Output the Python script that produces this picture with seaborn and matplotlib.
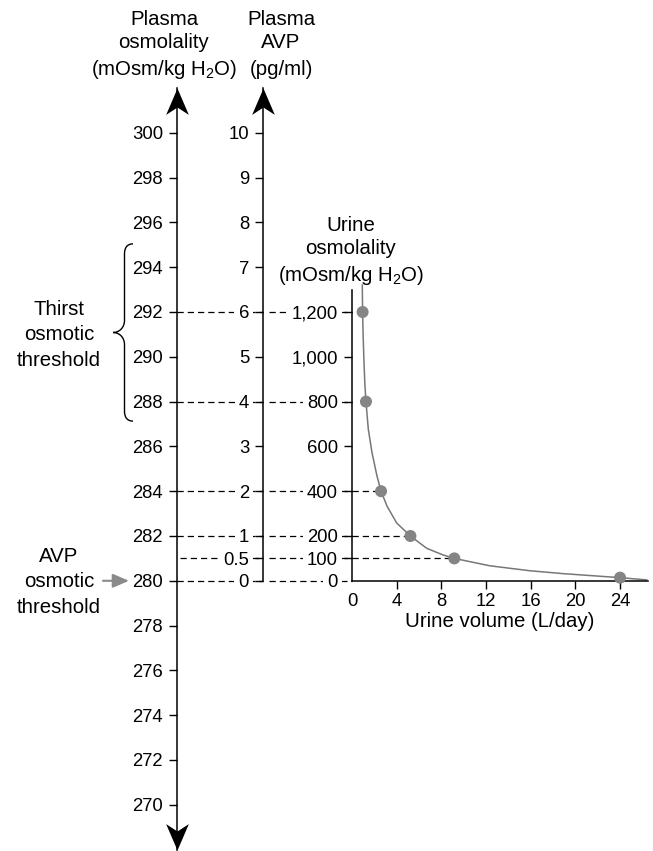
import numpy as np
import pandas as pd
import matplotlib
matplotlib.use("Agg")
import matplotlib.pyplot as plt
from matplotlib.path import Path
from matplotlib.patches import PathPatch
from matplotlib.ticker import FuncFormatter
import seaborn as sns

# ---------------- data ----------------
osm_ticks = [270, 272, 274, 276, 278, 280, 282, 284, 286, 288, 290, 292, 294, 296, 298, 300]
avp_ticks = [0, 0.5, 1, 2, 3, 4, 5, 6, 7, 8, 9, 10]
urine_osm_ticks = [0, 100, 200, 400, 600, 800, 1000, 1200]
urine_vol_ticks = [0, 4, 8, 12, 16, 20, 24]

# linked levels (plasma osmolality -> plasma AVP -> urine osmolality)
link_osm = [292, 288, 284, 282, 281, 280]
link_avp = [6, 4, 2, 1, 0.5, 0]
link_urine = [1200, 800, 400, 200, 100, 0]

# measured points on the urine curve
pt_vol = [0.95, 1.25, 2.6, 5.23, 9.16, 24.0]
pt_osm = [1200, 800, 400, 200, 100, 14]
dashed_pts = [2, 3, 4]  # indices of points joined to the axis by dashes

# curve
curve_vol = [0.92, 0.95, 1.00, 1.07, 1.15, 1.25, 1.46, 1.79, 2.24, 2.60, 3.14, 4.0, 5.23,
             6.69, 8.17, 9.16, 10.6, 12.35, 15.9, 18.9, 24.0, 26.4]
curve_osm = [1321, 1200, 1090, 980, 880, 800, 677, 572, 467, 400, 333, 258, 200,
             145, 115, 100, 85, 67, 45, 32, 14, 4]

thirst_range = (287.13, 295.04)
avp_threshold = 280

# ---------------- style ----------------
sns.set_theme(style="ticks")
plt.rcParams["font.family"] = ["Liberation Sans", "DejaVu Sans"]
plt.rcParams["mathtext.fontset"] = "custom"
plt.rcParams["mathtext.rm"] = "Liberation Sans"
plt.rcParams["mathtext.it"] = "Liberation Sans:italic"
plt.rcParams["mathtext.default"] = "regular"
plt.rcParams["text.color"] = "black"
plt.rcParams["axes.labelcolor"] = "black"
plt.rcParams["xtick.color"] = "black"
plt.rcParams["ytick.color"] = "black"

W, H = 653, 851
fig = plt.figure(figsize=(W / 100, H / 100), dpi=100)
fig.patch.set_facecolor("white")


def fx(px):
    return px / W


def fy(py):
    return 1 - py / H


TICK_FS = 13.3
TITLE_FS = 14.7
SPINE_W = 1.1
DASH = (0, (5.0, 3.2))
DASH_LW = 0.9
DASH_C = "black"
LABEL_BOX = dict(facecolor="white", edgecolor="none", pad=3.0)

px_unit = 22.4  # pixels per mOsm/kg
top_px = 88

# ---------------- axes ----------------
osm_lo, osm_hi = 268, 302
osm_h = (osm_hi - osm_lo) * px_unit
ax_osm = fig.add_axes([fx(177), fy(top_px + osm_h), (263 - 177) / W, osm_h / H])
avp_hi = 11
avp_h = avp_hi * 2 * px_unit
ax_avp = fig.add_axes([fx(263), fy(top_px + avp_h), (352 - 263) / W, avp_h / H])
ur_hi = 1300
ur_h = ur_hi / 200 * 2 * px_unit
ur_xmax = 26.5
ur_w = ur_xmax * 11.17
ax_ur = fig.add_axes([fx(352), fy(top_px + avp_h), ur_w / W, ur_h / H])

for ax in (ax_osm, ax_avp, ax_ur):
    ax.set_facecolor("none")
    for s in ("top", "right"):
        ax.spines[s].set_visible(False)
    ax.spines["left"].set_linewidth(SPINE_W)
    ax.spines["left"].set_color("black")
    ax.tick_params(axis="y", which="both", direction="out", length=6, width=1.0,
                   pad=4, labelsize=TICK_FS, colors="black", left=True)

for ax in (ax_osm, ax_avp):
    ax.spines["bottom"].set_visible(False)
    ax.set_xticks([])
    ax.set_xlim(0, 1)

ax_osm.set_ylim(osm_lo, osm_hi)
ax_osm.set_yticks(osm_ticks)
ax_osm.yaxis.set_major_formatter(FuncFormatter(lambda v, p: f"{v:g}"))

ax_avp.set_ylim(0, avp_hi)
ax_avp.set_yticks(avp_ticks)
ax_avp.yaxis.set_major_formatter(FuncFormatter(lambda v, p: f"{v:g}"))

ax_ur.set_ylim(0, ur_hi)
ax_ur.set_xlim(0, ur_xmax)
ax_ur.set_yticks(urine_osm_ticks)
ax_ur.set_xticks(urine_vol_ticks)
ax_ur.yaxis.set_major_formatter(FuncFormatter(lambda v, p: f"{v:,.0f}"))
ax_ur.xaxis.set_major_formatter(FuncFormatter(lambda v, p: f"{v:g}"))
ax_ur.spines["bottom"].set_linewidth(SPINE_W)
ax_ur.spines["bottom"].set_color("black")
ax_ur.tick_params(axis="x", direction="out", length=6, width=1.0, pad=2.5,
                  labelsize=TICK_FS, colors="black", bottom=True)
ax_ur.yaxis.get_major_ticks()[0].tick1line.set_visible(False)
ax_ur.xaxis.get_major_ticks()[0].tick1line.set_visible(False)

for ax in (ax_avp, ax_ur):
    for lab in ax.get_yticklabels():
        lab.set_bbox(LABEL_BOX)

# ---------------- dashed links ----------------
starts = [0.0 if v % 2 == 0 else 0.04 for v in link_osm]
for y, x0 in zip(link_osm, starts):
    ax_osm.plot([x0, 1], [y, y], linestyle=DASH, color=DASH_C, lw=DASH_LW,
                zorder=1, clip_on=False)
for y in link_avp:
    ax_avp.plot([0.07, 1], [y, y], linestyle=DASH, color=DASH_C, lw=DASH_LW,
                zorder=1, clip_on=False)
for i in dashed_pts:
    ax_ur.plot([0, pt_vol[i]], [pt_osm[i], pt_osm[i]], linestyle=DASH, color=DASH_C,
               lw=DASH_LW, zorder=1)

# ---------------- curve & points ----------------
curve_df = pd.DataFrame({"vol": curve_vol, "osm": curve_osm})
pts_df = pd.DataFrame({"vol": pt_vol, "osm": pt_osm})
sns.lineplot(data=curve_df, x="vol", y="osm", ax=ax_ur, color="#777777", lw=1.1,
             sort=False, estimator=None, zorder=2)
sns.scatterplot(data=pts_df, x="vol", y="osm", ax=ax_ur, color="#858585", s=75,
                edgecolor="none", zorder=3, clip_on=False)
ax_ur.set_ylabel("")
ax_ur.set_xlabel("Urine volume (L/day)", fontsize=TITLE_FS, labelpad=2, color="black")
for ln in ax_ur.lines:
    ln.set_clip_on(False)

# ---------------- arrowheads on axes ----------------
up_head = Path([(0, 0), (-0.43, -1), (0, -0.72), (0.43, -1), (0, 0)],
               [Path.MOVETO, Path.LINETO, Path.LINETO, Path.LINETO, Path.CLOSEPOLY])
down_head = Path([(0, 0), (-0.43, 1), (0, 0.72), (0.43, 1), (0, 0)],
                 [Path.MOVETO, Path.LINETO, Path.LINETO, Path.LINETO, Path.CLOSEPOLY])
head_kw = dict(color="black", markersize=38, markeredgewidth=0, clip_on=False,
               linestyle="none")
ax_osm.plot([0], [1], marker=up_head, transform=ax_osm.transAxes, **head_kw)
ax_osm.plot([0], [0], marker=down_head, transform=ax_osm.transAxes, **head_kw)
ax_avp.plot([0], [1], marker=up_head, transform=ax_avp.transAxes, **head_kw)

# ---------------- titles ----------------
def title(xc, y0, lines):
    offs = [0, 23.5, 50]
    for o, t in zip(offs, lines):
        fig.text(fx(xc), fy(y0 + o), t, ha="center", va="baseline",
                 fontsize=TITLE_FS, color="black")


title(164, 25, ["Plasma", "osmolality", "(mOsm/kg H$_2$O)"])
title(281, 25, ["Plasma", "AVP", "(pg/ml)"])
title(351, 231, ["Urine", "osmolality", "(mOsm/kg H$_2$O)"])

# ---------------- left annotations ----------------
for o, t in zip([0, 25, 51], ["Thirst", "osmotic", "threshold"]):
    fig.text(fx(59), fy(315 + o), t, ha="center", va="baseline", fontsize=TITLE_FS,
             color="black")
for o, t in zip([0, 25, 51], ["AVP", "osmotic", "threshold"]):
    fig.text(fx(59), fy(562 + o), t, ha="center", va="baseline", fontsize=TITLE_FS,
             color="black")

tr = ax_osm.get_yaxis_transform()
axw = 263 - 177


def bx(px):
    return (px - 177) / axw


ax_osm.annotate("", xy=(bx(129), avp_threshold), xytext=(bx(103), avp_threshold),
                xycoords=tr, textcoords=tr, annotation_clip=False,
                arrowprops=dict(arrowstyle="-|>,head_length=0.7,head_width=0.3",
                                color="#8a8a8a", lw=1.5, shrinkA=0, shrinkB=0,
                                mutation_scale=14))

# curly brace
yb, yt = thirst_range
ym = (yb + yt) / 2
xe, xv, xt = bx(133), bx(124.5), bx(113)
verts = [
    (xe, yt),
    (bx(127.5), yt), (xv, yt - 0.15), (xv, yt - 0.45),
    (xv, ym + 0.55),
    (xv, ym + 0.2), (bx(119), ym), (xt, ym),
    (bx(119), ym), (xv, ym - 0.2), (xv, ym - 0.55),
    (xv, yb + 0.45),
    (xv, yb + 0.15), (bx(127.5), yb), (xe, yb),
]
codes = [Path.MOVETO,
         Path.CURVE4, Path.CURVE4, Path.CURVE4,
         Path.LINETO,
         Path.CURVE4, Path.CURVE4, Path.CURVE4,
         Path.CURVE4, Path.CURVE4, Path.CURVE4,
         Path.LINETO,
         Path.CURVE4, Path.CURVE4, Path.CURVE4]
brace = PathPatch(Path(verts, codes), transform=tr, fill=False, lw=1.0,
                  edgecolor="black", clip_on=False)
ax_osm.add_patch(brace)

fig.savefig("out.png", dpi=100, facecolor="white")
